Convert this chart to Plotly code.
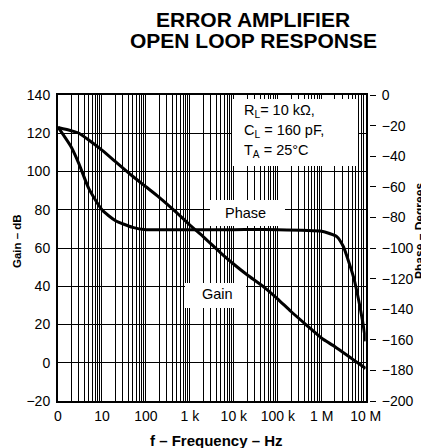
import plotly.graph_objects as go

# ---- data ----
freq_gain = [1, 2, 3, 5, 10, 20, 50, 100, 200, 500, 1e3, 2e3, 5e3, 1e4, 2e4, 5e4,
             1e5, 2e5, 5e5, 1e6, 2e6, 5e6, 1e7]
gain_db = [123, 121.3, 120, 116.5, 111.2, 105.3, 97.5, 92, 86.5, 78.5, 72, 66, 57.5,
           51.5, 46, 39.3, 33.3, 26.8, 18.8, 12.8, 8.4, 1.9, -3]

freq_phase = [1, 2, 3, 5, 10, 20, 50, 100, 1e3, 1e4, 1e5, 1e6, 1.5e6, 2.2e6, 3.1e6,
              4e6, 5.4e6, 6.8e6, 8.4e6, 1e7]
phase_deg = [-21, -34, -45, -61, -75, -82, -86.5, -88, -88, -88, -88, -89, -90.5,
             -92.5, -99, -108, -120, -133, -147, -161]

decade_vals = [1, 10, 100, 1e3, 1e4, 1e5, 1e6, 1e7]
decade_text = ["0", "10", "100", "1 k", "10 k", "100 k", "1 M", "10 M"]
minor_vals = [m * 10 ** e for e in range(0, 7) for m in range(2, 10)]
gain_ticks = [-20, 0, 20, 40, 60, 80, 100, 120, 140]
phase_ticks = [0, -20, -40, -60, -80, -100, -120, -140, -160, -180, -200]

# ---- layout geometry (screen pixels; page body adds an 8 px offset) ----
OFF = 8
W, H = 429 - OFF, 448 - OFF
X0S, X1S, Y0S, Y1S = 58, 374, 95, 401      # plot area in screen px
L, T = X0S - OFF, Y0S - OFF
R, B = W - (X1S - OFF), H - (Y1S - OFF)
PW = X1S - X0S
PH = Y1S - Y0S


def px(x):
    return (x - X0S) / PW


def py(y):
    return (Y1S - y) / PH


FONT = "Arial, Liberation Sans, sans-serif"
GRID = "black"

fig = go.Figure()
fig.add_trace(go.Scatter(x=freq_gain, y=gain_db, mode="lines",
                         line=dict(color="black", width=3, shape="spline", smoothing=0.6),
                         yaxis="y", showlegend=False))
fig.add_trace(go.Scatter(x=freq_phase, y=phase_deg, mode="lines",
                         line=dict(color="black", width=3, shape="spline", smoothing=0.6),
                         yaxis="y2", showlegend=False))

fig.update_layout(
    width=W, height=H,
    margin=dict(l=L, r=R, t=T, b=B, pad=0),
    paper_bgcolor="white", plot_bgcolor="white",
    font=dict(family=FONT, size=14, color="black"),
    xaxis=dict(type="log", range=[0, 7], domain=[0, px(365.7)],
               tickvals=decade_vals, ticktext=decade_text, ticks="",
               showgrid=True, gridcolor=GRID, gridwidth=1,
               minor=dict(tickvals=minor_vals, showgrid=True, gridcolor=GRID,
                          gridwidth=1, ticks=""),
               showline=True, mirror=True, linecolor="black", linewidth=2,
               zeroline=False, ticklabelstandoff=1,
               tickfont=dict(size=14)),
    yaxis=dict(range=[-20, 140], tickvals=gain_ticks, ticks="",
               showgrid=True, gridcolor=GRID, gridwidth=1.3,
               showline=True, mirror=True, linecolor="black", linewidth=2,
               zeroline=False, ticklabelstandoff=3,
               tickfont=dict(size=14)),
    yaxis2=dict(range=[-200, 0], tickvals=phase_ticks, overlaying="y",
                anchor="free", position=px(369), side="right",
                ticks="outside", ticklen=6, tickwidth=1, tickcolor="black",
                showline=False, showgrid=False, zeroline=False,
                ticklabelstandoff=3, tickfont=dict(size=14)),
)

# white label boxes covering the grid
boxes = [(232, 99, 358, 166), (210, 200, 285, 226), (185, 283, 246, 308)]
for x0, y0, x1, y1 in boxes:
    fig.add_shape(type="rect", xref="paper", yref="paper",
                  x0=px(x0), x1=px(x1), y0=py(y1), y1=py(y0),
                  fillcolor="white", line=dict(width=0), layer="above")


def note(text, x, y, size, xanchor="center", angle=0):
    return dict(text=text, x=px(x), y=py(y), xref="paper", yref="paper",
                showarrow=False, xanchor=xanchor, yanchor="middle",
                textangle=angle, font=dict(size=size))


ann = [
    note("<b>ERROR AMPLIFIER</b>", 253, 19, 21),
    note("<b>OPEN LOOP RESPONSE</b>", 253, 41, 21),
    note("R<sub>L</sub>= 10 kΩ,", 242, 111, 14.5, "left"),
    note("C<sub>L</sub> = 160 pF,", 242, 131, 14.5, "left"),
    note("T<sub>A</sub> = 25°C", 242, 151, 14.5, "left"),
    note("Phase", 245.5, 213, 14.5),
    note("Gain", 217.5, 294, 14.5),
    note("<b>f – Frequency – Hz</b>", 216, 440, 15),
    note("<b>Gain – dB</b>", 17, 241, 11.5, angle=-90),
    note("<b>Phase – Degrees</b>", 420, 231, 12, angle=-90),
]

fig.update_layout(annotations=ann)
fig.write_html("out.html")
